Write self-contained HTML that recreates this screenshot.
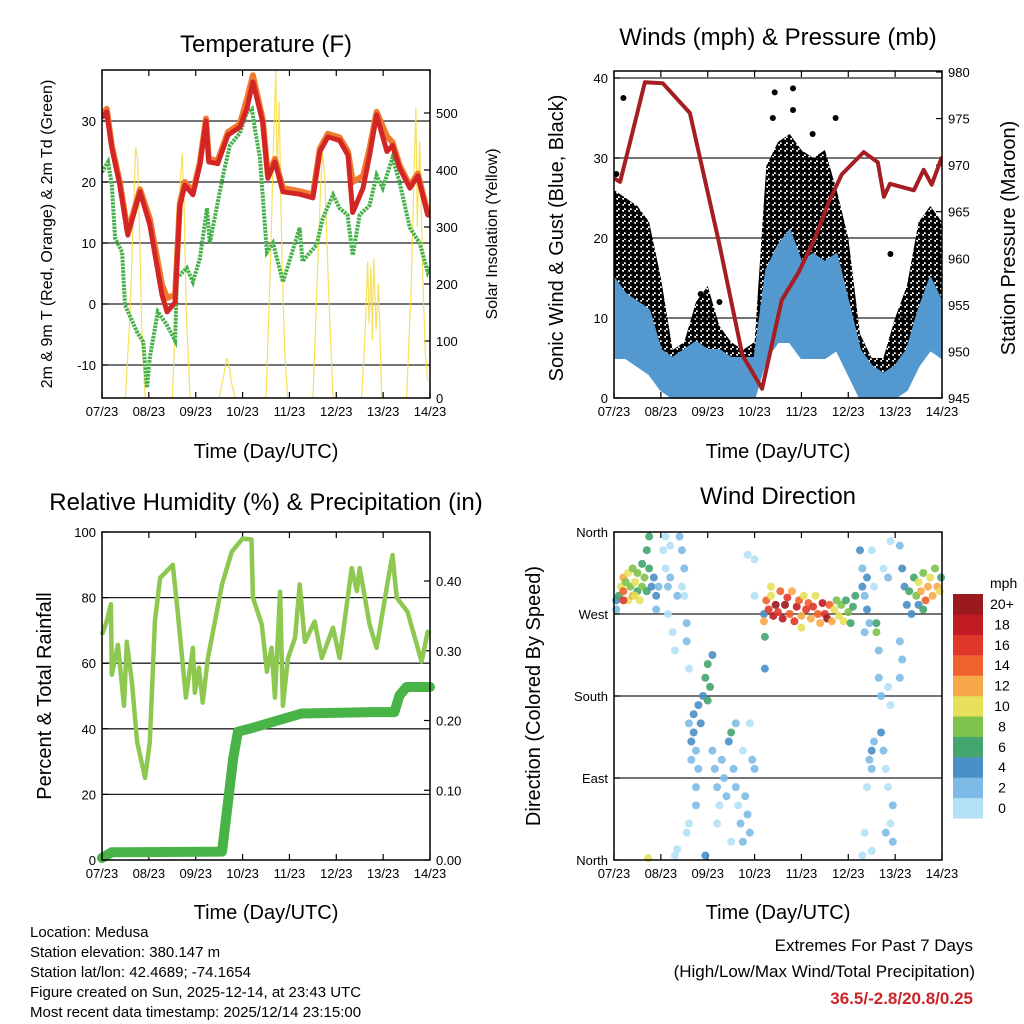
<!DOCTYPE html>
<html><head><meta charset="utf-8">
<style>
html,body{margin:0;padding:0;background:#fff;}
svg{display:block;font-family:"Liberation Sans",Arial,sans-serif;}
</style></head>
<body>
<svg id="s" width="1024" height="1024" viewBox="0 0 1024 1024" xmlns="http://www.w3.org/2000/svg">
<defs>
<pattern id="dots" x="0" y="0" width="6" height="6" patternUnits="userSpaceOnUse">
<circle cx="1.5" cy="1.5" r="2.9" fill="#000"/>
<circle cx="4.5" cy="4.5" r="2.9" fill="#000"/>
</pattern>
</defs>
<g font-size="24" text-anchor="middle" fill="#000">
<text x="266" y="52">Temperature (F)</text>
<text x="778" y="45">Winds (mph) &amp; Pressure (mb)</text>
<text x="266" y="510">Relative Humidity (%) &amp; Precipitation (in)</text>
<text x="778" y="504">Wind Direction</text>
</g>
<g font-size="20" text-anchor="middle">
<text x="266" y="458">Time (Day/UTC)</text>
<text x="778" y="458">Time (Day/UTC)</text>
<text x="266" y="919">Time (Day/UTC)</text>
<text x="778" y="919">Time (Day/UTC)</text>
<text transform="translate(52,234) rotate(-90)" font-size="16">2m &amp; 9m T (Red, Orange) &amp; 2m Td (Green)</text>
<text transform="translate(497,234) rotate(-90)" font-size="16">Solar Insolation (Yellow)</text>
<text transform="translate(563,238) rotate(-90)">Sonic Wind &amp; Gust (Blue, Black)</text>
<text transform="translate(1015,238) rotate(-90)">Station Pressure (Maroon)</text>
<text transform="translate(51,696) rotate(-90)">Percent &amp; Total Rainfall</text>
<text transform="translate(540,696) rotate(-90)">Direction (Colored By Speed)</text>
</g>
<g font-size="15">
<text x="30" y="937">Location: Medusa</text>
<text x="30" y="957">Station elevation: 380.147 m</text>
<text x="30" y="977">Station lat/lon: 42.4689; -74.1654</text>
<text x="30" y="997">Figure created on Sun, 2025-12-14, at 23:43 UTC</text>
<text x="30" y="1017">Most recent data timestamp: 2025/12/14 23:15:00</text>
</g>
<g font-size="17" text-anchor="end">
<text x="973" y="951">Extremes For Past 7 Days</text>
<text x="975" y="977">(High/Low/Max Wind/Total Precipitation)</text>
<text x="973" y="1004" fill="#c8262b" font-weight="bold">36.5/-2.8/20.8/0.25</text>
</g>
<g id="root"></g>
</svg>
<script>
// ---------- data ----------
const dayLabels = ["07/23","08/23","09/23","10/23","11/23","12/23","13/23","14/23"];
const tempTicks = [-10,0,10,20,30];
const solarTicks = [0,100,200,300,400,500];
const windTicks = [0,10,20,30,40];
const presTicks = [945,950,955,960,965,970,975,980];
const rhTicks = [0,20,40,60,80,100];
const precipTicks = [0,0.1,0.2,0.3,0.4];
const precipTickLabels = ["0.00","0.10","0.20","0.30","0.40"];
const dirTicks = [0,90,180,270,360];
const dirTickLabels = ["North","East","South","West","North"];
const speedBins = ["0","2","4","6","8","10","12","14","16","18","20+"];
const speedColors = ["#b5e1f7","#7dbbe6","#4a8fc7","#44a56f","#7dc24b","#e6e05a","#f7a94a","#f0622b","#e0372b","#c11c24","#9b1a1d"];

const tempTimes = [0,0.1,0.21,0.38,0.55,0.81,1.02,1.28,1.39,1.56,1.66,1.77,1.94,2.09,2.22,2.28,2.47,2.69,2.94,3.09,3.22,3.43,3.54,3.69,3.86,4.22,4.5,4.65,4.82,5.07,5.25,5.35,5.57,5.71,5.86,6.08,6.2,6.35,6.57,6.74,6.95,7];
const temp2m = [30.5,31.5,25.6,19.5,11.3,18.4,13,1.5,-1.3,0.3,16,19.5,17.9,22.8,30,23.3,23,27.7,29,32,36.4,29.8,20.6,23.3,18.4,18,17.4,25,27.4,26.8,24.4,15,19,24.4,31,25,26,22.3,19,21,14.6,14.5];
const temp9m = [31,32,26,20,11.8,18.8,14,3.2,1,1.5,16.5,20,18.4,23.2,30.4,23.8,23.5,28.2,29.5,33.5,37.5,30.3,21,23.8,19,18.5,17.9,25.5,27.9,27.3,25,20,21,25.5,31.5,27.5,26.5,22.8,19.4,21.4,15,15];
const dewTimes = [0,0.13,0.21,0.28,0.43,0.49,0.75,0.88,0.96,1.02,1.19,1.38,1.56,1.6,1.81,1.94,2.09,2.24,2.3,2.58,2.73,2.94,3.09,3.2,3.26,3.37,3.52,3.65,3.86,4.22,4.28,4.58,4.71,4.93,5.07,5.24,5.35,5.5,5.71,5.86,5.99,6.2,6.35,6.57,6.78,6.95,7];
const dewVals = [21.6,23.3,19.5,10.8,8.5,-0.2,-4.6,-6.2,-13.7,-8.8,-1.3,-3.4,-6,4.3,5.9,3.6,7.5,15.7,10,21,26,28,31.4,32,28.8,24,8.5,10,3.6,12.5,7,9.7,14,17.9,15.7,14.6,8,14.6,16.2,21.1,19,24,20,12.5,10,5.2,6];
const solarTimes = [0,0.5,0.6,0.68,0.72,0.76,0.8,0.85,0.92,1.5,1.6,1.67,1.71,1.75,1.8,1.88,2.5,2.6,2.66,2.7,2.78,2.85,3.5,3.6,3.66,3.71,3.74,3.78,3.84,3.9,3.96,4.5,4.6,4.67,4.71,4.76,4.83,4.93,5.54,5.62,5.67,5.7,5.74,5.77,5.8,5.85,5.9,5.97,6.5,6.6,6.66,6.7,6.73,6.78,6.85,6.9,6.95];
const solarVals = [0,0,150,350,440,420,300,120,0,0,200,380,430,350,150,0,0,40,70,60,20,0,0,250,450,575,380,520,250,80,0,0,220,380,430,380,200,0,0,120,240,130,230,100,245,120,200,0,0,200,400,510,300,450,200,80,30];

const windTimes = [0,0.25,0.5,0.75,1,1.25,1.5,1.75,2,2.25,2.5,2.75,3,3.25,3.5,3.75,4,4.25,4.5,4.75,5,5.25,5.5,5.75,6,6.25,6.5,6.75,7];
const windHi = [15,13,12,11,6,5,6,7,6,6,5,5,5,16,19,21,17,18,17,18,12,6,4,3,4,6,11,15,12];
const windLo = [5,5,4,3,1,0,0,0,0,0,0,0,0,5,7,7,5,5,5,6,3,0,0,0,0,1,4,6,5];
const gustHi = [26,25,24,22,15,6,7,12,14,9,7,6,7,29,32,33,31,30,31,26,20,8,5,5,10,14,22,24,22];
const gustLo = [8,10,10,9,4,1,1,2,2,1,1,1,1,12,16,18,14,14,13,14,8,1,0,0,1,4,9,12,10];
const gustPeakTimes = [0.2,1.85,2.25,3.39,3.43,3.82,3.82,4.24,4.73,5.9,0.05];
const gustPeakVals = [37.5,13,12,35,38.2,38.7,36,33,35,18,28];
const presTimes = [0,0.13,0.34,0.66,1.04,1.62,2.24,2.74,3.16,3.58,3.94,4.3,4.58,4.86,5.33,5.63,5.76,5.89,6.4,6.61,6.78,7];
const presVals = [968.6,968.2,972.4,978.9,978.8,975.6,961.7,949.6,946,955.5,958.5,962.3,966,969,971.4,970.3,966.6,968,967.3,969.5,967.9,970.9];

const rhTimes = [0,0.1,0.19,0.21,0.34,0.47,0.53,0.64,0.75,0.92,1.02,1.13,1.24,1.51,1.62,1.79,1.94,1.98,2.07,2.15,2.26,2.56,2.77,3.0,3.19,3.22,3.41,3.52,3.62,3.69,3.8,3.86,3.97,4.12,4.22,4.33,4.54,4.69,4.93,5.07,5.33,5.44,5.5,5.71,5.86,6.1,6.2,6.29,6.52,6.82,6.95,7];
const rhVals = [68.7,72.7,78,56.5,65.6,47,66.5,54,36,25,36,72.7,86,90,75,49.5,64.7,51,58.6,48,61.6,84,94,98,97.7,80,71.8,57.4,64.7,49.5,81.8,47,61.6,67.8,84,66.5,72.7,61.6,70.8,61.6,89,82,89,71.8,64.7,85,93,80,75.7,60.5,69.6,69];
const precipTimes = [0,0.21,2.56,2.69,2.8,2.9,3.19,3.75,4.26,5.75,6.24,6.35,6.5,7];
const precipVals = [0.003,0.011,0.012,0.083,0.146,0.184,0.189,0.2,0.21,0.212,0.212,0.236,0.248,0.248];

const dirTime = [0.05,0.05,0.1,0.15,0.2,0.2,0.25,0.3,0.3,0.35,0.4,0.4,0.45,0.5,0.5,0.55,0.6,0.6,0.65,0.7,0.7,0.75,0.75,0.8,0.85,0.9,0.9,0.95,0.2,0.45,0.73,
1.05,1.1,1.1,1.15,1.15,1.2,1.2,1.25,1.3,1.4,1.45,1.5,1.5,1.55,1.55,1.6,1.35,1.45,1.35,1.3,
1.6,1.65,1.65,1.7,1.7,1.75,1.8,1.8,1.85,1.9,1.95,2.0,2.0,2.05,2.1,1.75,1.75,1.6,1.55,1.95,
2.1,2.15,2.2,2.25,2.3,2.35,2.4,2.45,2.5,2.55,2.6,2.65,2.7,2.75,2.8,2.85,2.9,2.95,3.0,2.2,2.5,2.6,2.75,2.9,2.85,3.0,3.0,
3.2,3.2,3.25,3.3,3.35,3.4,3.45,3.5,3.55,3.6,3.65,3.7,3.75,3.8,3.85,3.9,3.95,4.0,4.05,4.1,4.15,4.2,4.25,4.3,4.35,4.4,4.45,4.5,4.55,4.6,4.65,4.7,4.75,4.8,4.85,4.9,4.95,5.0,5.05,5.1,5.15,3.22,3.22,4.0,3.35,
5.25,5.3,5.3,5.35,5.35,5.4,5.4,5.45,5.5,5.55,5.6,5.6,5.65,5.65,5.7,5.7,5.75,5.8,5.85,5.55,5.5,5.45,5.5,5.4,5.35,5.5,5.3,5.85,5.9,5.9,5.95,5.95,5.8,5.75,5.85,5.9,
6.1,6.15,6.2,6.25,6.3,6.35,6.4,6.1,6.15,6.1,
6.45,6.5,6.55,6.6,6.65,6.7,6.75,6.8,6.85,6.9,6.95,6.98,6.5,6.6];
const dirDeg = [275,285,290,300,310,295,305,285,315,300,290,320,305,295,315,285,300,325,310,295,340,355,320,300,310,290,275,300,285,290,2,
340,355,320,300,270,345,310,250,230,355,340,320,290,260,240,210,290,300,12,5,
150,130,110,160,140,120,170,100,150,180,200,215,175,190,225,80,60,40,30,5,
120,100,80,60,110,90,70,130,140,100,80,60,40,20,70,50,30,110,100,40,20,150,120,150,335,330,290,
270,262,285,275,290,268,280,272,295,265,280,288,270,295,262,278,285,268,290,275,282,265,278,290,270,260,282,270,265,280,262,275,285,268,280,262,285,272,260,278,290,245,210,255,300,
340,320,300,290,250,310,275,260,340,300,260,250,230,200,180,140,120,100,80,130,120,110,100,80,30,10,5,190,170,40,20,60,30,320,310,350,
345,320,300,280,295,270,310,240,220,200,
290,305,295,315,285,300,310,290,320,300,295,310,280,275];
const dirSpd = [3,4,6,10,12,14,9,11,10,8,12,9,10,7,8,11,9,7,8,6,7,6,6,4,4,4,3,3,16,10,10,
1,0,1,2,1,1,3,1,0,2,3,2,1,2,3,1,3,1,0,1,
3,4,3,4,4,3,4,2,4,5,6,7,6,7,4,3,2,1,1,4,
2,3,2,1,2,3,2,5,6,3,2,1,3,3,3,2,2,2,3,1,1,2,1,1,1,1,1,
4,12,14,16,10,18,20,16,14,18,20,16,14,12,16,18,14,12,10,16,14,12,16,10,14,12,18,16,20,14,12,10,8,10,8,10,6,8,6,7,6,6,4,10,10,
4,3,4,3,3,5,4,2,1,1,7,8,3,3,2,4,3,1,1,3,4,3,2,1,1,1,1,1,1,1,2,3,2,1,2,1,
3,4,5,4,6,4,7,3,3,3,
8,10,12,9,14,12,10,12,8,12,10,6,4,6];

// ---------- helpers ----------
const NS = "http://www.w3.org/2000/svg";
const root = document.getElementById("root");
function mk(tag, attrs, parent){
  const e = document.createElementNS(NS, tag);
  for (const k in attrs) e.setAttribute(k, attrs[k]);
  (parent||root).appendChild(e);
  return e;
}
function lin(d0,d1,r0,r1){ return v => r0 + (v-d0)*(r1-r0)/(d1-d0); }
function pathOf(ts, vs, sx, sy){ return ts.map((t,i)=>(i?"L":"M")+sx(t).toFixed(1)+","+sy(vs[i]).toFixed(1)).join(""); }

function frame(name, x0,y0,x1,y1, sx, yL, leftTicks, leftLabels, yR, rightTicks, rightLabels, gridTicks){
  const g = mk("g", {});
  
  
  gridTicks.forEach(v=>{
    const l = mk("line",{x1:x0,x2:x1,y1:yL(v),y2:yL(v),stroke:"#222","stroke-width":1.3},g);
    
    
  });
  dayLabels.forEach((lab,i)=>{
    const x = sx(i);
    mk("line",{x1:x,x2:x,y1:y1,y2:y1-6,stroke:"#000","stroke-width":1.2},g);
    mk("line",{x1:x,x2:x,y1:y0,y2:y0+6,stroke:"#000","stroke-width":1.2},g);
    const t = mk("text",{x:x,y:y1+18,"font-size":13,"text-anchor":"middle"},g);
    t.textContent = lab;
    
    
  });
  leftTicks.forEach((v,i)=>{
    const y = yL(v);
    mk("line",{x1:x0,x2:x0+6,y1:y,y2:y,stroke:"#000","stroke-width":1.2},g);
    const t = mk("text",{x:x0-6,y:y+5,"font-size":13,"text-anchor":"end"},g);
    t.textContent = leftLabels[i];
    
    
  });
  if (yR) rightTicks.forEach((v,i)=>{
    const y = yR(v);
    mk("line",{x1:x1,x2:x1-6,y1:y,y2:y,stroke:"#000","stroke-width":1.2},g);
    const t = mk("text",{x:x1+6,y:y+5,"font-size":13,"text-anchor":"start"},g);
    t.textContent = rightLabels[i];
    
    
  });
  return g;
}
function box(x0,y0,x1,y1){
  const r = mk("rect",{x:x0,y:y0,width:x1-x0,height:y1-y0,fill:"none",stroke:"#000","stroke-width":1.5});
  
  
}

// ---------- Panel 1: temperature ----------
{
  const sx = lin(0,7,102,430), yL = lin(-10,30,365,121), yR = lin(0,500,398,113);
  frame("temperature-panel",102,70,430,398,sx,yL,tempTicks,tempTicks,yR,solarTicks,solarTicks,tempTicks);
  const clip = mk("clipPath",{id:"c1"}); mk("rect",{x:102,y:70,width:328,height:328},clip);
  const g = mk("g",{"clip-path":"url(#c1)"});
  const sol = mk("path",{d:pathOf(solarTimes,solarVals,sx,yR),fill:"none",stroke:"#f7dc3c","stroke-width":1.2,"stroke-opacity":0.85},g);
  
  
  const dew = mk("path",{d:pathOf(dewTimes,dewVals,sx,yL),fill:"none",stroke:"#46b04a","stroke-width":4,"stroke-dasharray":"2.5 1"},g);
  
  
  const t9 = mk("path",{d:pathOf(tempTimes,temp9m,sx,yL),fill:"none",stroke:"#f07a2e","stroke-width":6,"stroke-linejoin":"round"},g);
  
  
  const t2 = mk("path",{d:pathOf(tempTimes,temp2m,sx,yL),fill:"none",stroke:"#d42526","stroke-width":5,"stroke-linejoin":"round"},g);
  
  
  box(102,70,430,398);
}

// ---------- Panel 2: winds ----------
{
  const sx = lin(0,7,614,942), yL = lin(0,40,398,78), yR = lin(945,980,398,72);
  frame("winds-panel",614,71,942,398,sx,yL,windTicks,windTicks,yR,presTicks,presTicks,windTicks);
  const clip = mk("clipPath",{id:"c2"}); mk("rect",{x:614,y:71,width:328,height:327},clip);
  const g = mk("g",{"clip-path":"url(#c2)"});
  const band = (hi,lo)=> pathOf(windTimes,hi,sx,yL) + windTimes.slice().reverse().map((t,i)=>"L"+sx(t).toFixed(1)+","+yL(lo[lo.length-1-i]).toFixed(1)).join("") + "Z";
  const gb = mk("path",{d:band(gustHi,gustLo),fill:"url(#dots)",stroke:"none"},g);
  
  
  gustPeakTimes.forEach((t,i)=>{
    const c = mk("circle",{cx:sx(t),cy:yL(gustPeakVals[i]),r:3,fill:"#000"},g);
    
    
  });
  const wb = mk("path",{d:band(windHi,windLo),fill:"#5399d0",stroke:"#5399d0","stroke-width":2,"stroke-linejoin":"round"},g);
  
  
  const p = mk("path",{d:pathOf(presTimes,presVals,sx,yR),fill:"none",stroke:"#a41e22","stroke-width":4,"stroke-linejoin":"round"},g);
  
  
  box(614,71,942,398);
}

// ---------- Panel 3: humidity / precip ----------
{
  const sx = lin(0,7,102,430), yL = lin(0,100,860,532), yR = lin(0,0.4,860,581);
  frame("humidity-panel",102,532,430,860,sx,yL,rhTicks,rhTicks,yR,precipTicks,precipTickLabels,[20,40,60,80]);
  const rh = mk("path",{d:pathOf(rhTimes,rhVals,sx,yL),fill:"none",stroke:"#8dc850","stroke-width":4.5,"stroke-linejoin":"round"});
  
  
  const pr = mk("path",{d:pathOf(precipTimes,precipVals,sx,yR),fill:"none",stroke:"#48b347","stroke-width":10,"stroke-linejoin":"round","stroke-linecap":"round"});
  
  
  box(102,532,430,860);
}

// ---------- Panel 4: wind direction ----------
{
  const sx = lin(0,7,614,942), y = lin(0,360,860,532);
  frame("direction-panel",614,532,942,860,sx,y,dirTicks,dirTickLabels,null,[],[],[90,180,270]);
  dirTime.forEach((t,i)=>{
    const bin = Math.min(10, Math.floor(dirSpd[i]/2));
    const c = mk("circle",{cx:sx(t),cy:y(dirDeg[i]),r:4,fill:speedColors[bin],"fill-opacity":0.9});
    
    
  });
  box(614,532,942,860);
  const lg = mk("g",{});
  
  
  const mt = mk("text",{x:990,y:588,"font-size":14},lg); mt.textContent = "mph";
  speedBins.forEach((lab,i)=>{
    const k = speedBins.length-1-i;
    const yy = 594 + k*20.4;
    const r = mk("rect",{x:953,y:yy,width:30,height:20.6,fill:speedColors[i]},lg);
    
    
    const t = mk("text",{x:1002,y:yy+15,"font-size":14,"text-anchor":"middle"},lg);
    t.textContent = lab;
    
    
  });
}
</script>
</body></html>
